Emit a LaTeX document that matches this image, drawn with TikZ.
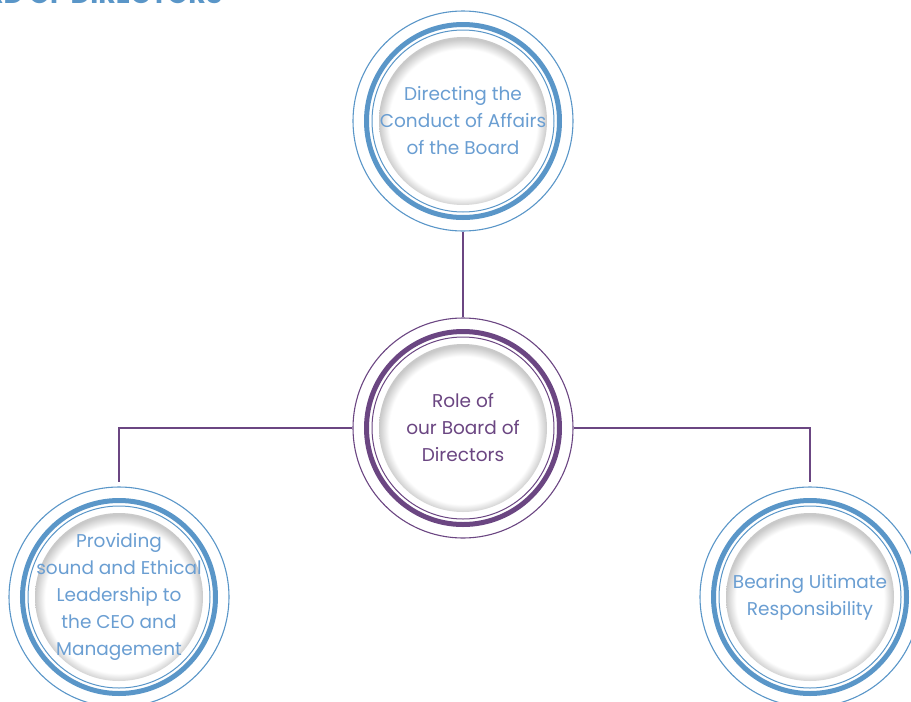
\documentclass[tikz,border=0pt]{standalone}
\usepackage{fontspec}
\setmainfont{Poppins}
\usepackage{tikz}
\usetikzlibrary{positioning}
\definecolor{boardblue}{HTML}{5A96C8}
\definecolor{boardtext}{HTML}{6A9ED2}
\definecolor{boardpurple}{HTML}{6B4682}
\pgfdeclareradialshading{rim}{\pgfpoint{0bp}{-1.2bp}}{color(0bp)=(white); color(22bp)=(white); color(25bp)=(black!21); color(50bp)=(black!21)}
\tikzset{bubble/.style={circle, minimum size=220pt, inner sep=0pt, draw=#1, line width=1.1pt, align=center, font=\fontsize{18.5}{27}\selectfont, path picture={
  \draw[#1, line width=5pt] (path picture bounding box.center) circle (96.5pt);
  \draw[#1, line width=1pt] (path picture bounding box.center) circle (91pt);
  \shade[shading=rim] (path picture bounding box.center) circle (84pt);}}}
\tikzstyle{link} = [draw=boardpurple, line width=1.9pt]

\begin{document}
\begin{tikzpicture}[x=1pt, y=-1pt]
\useasboundingbox (0,0) rectangle (911,702);
\clip (0,0) rectangle (911,702);
\node (title) [anchor=base east, text=boardblue, font=\fontsize{27}{27}\selectfont\bfseries] at (226,3) {BOARD OF DIRECTORS};
\node (top) [bubble=boardblue, text=boardtext] at (463,121) {Directing the\\Conduct of Affairs\\of the Board};
\node (mid) [bubble=boardpurple, text=boardpurple] at (463,428) {Role of\\our Board of\\Directors};
\node (lead) [bubble=boardblue, text=boardtext] at (119,597) {Providing\\sound and Ethical\\Leadership to\\the CEO and\\Management};
\node (resp) [bubble=boardblue, text=boardtext] at (810,597) {Bearing Uitimate\\Responsibility};

\draw [link] (top) -- (mid);
\draw [link, shorten >=4pt] (mid.west) -| (lead.north);
\draw [link, shorten >=4pt] (mid.east) -| (resp.north);
\end{tikzpicture}
\end{document}
